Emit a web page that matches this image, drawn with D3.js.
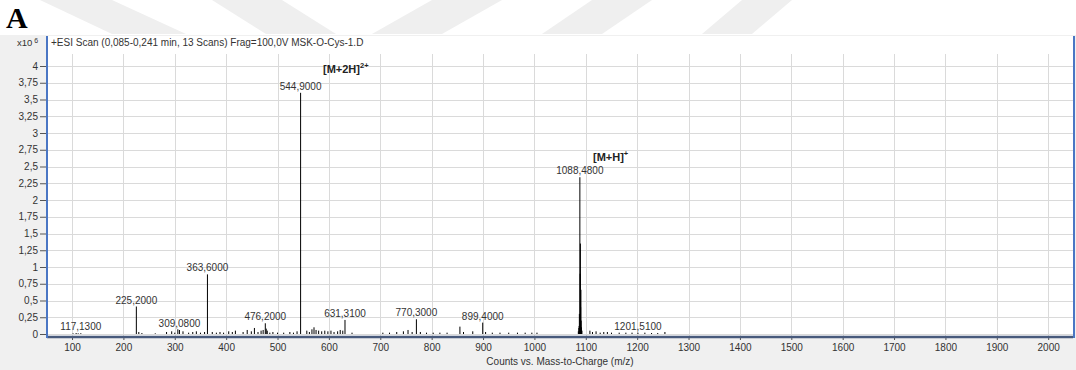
<!DOCTYPE html>
<html>
<head>
<meta charset="utf-8">
<script src="https://cdn.jsdelivr.net/npm/d3@7"></script>
<style>
	body { margin: 0; background: #fff; }
	text { font-family: "Liberation Sans", Arial, sans-serif; }
</style>
</head>
<body>
<svg id="chart" width="1076" height="370"></svg>
<script>
// Labelled peaks (m/z, intensity x10^6)
let peakMz = [117.13, 225.2, 309.08, 363.6, 476.2, 544.9, 631.31, 770.3, 899.4, 1088.48, 1201.51];
let peakInt = [0.012, 0.41, 0.06, 0.89, 0.16, 3.6, 0.21, 0.22, 0.17, 2.34, 0.02];

// Isotope lines around the [M+H]+ peak
let clusterMz = [1085.5, 1086.5, 1087.0, 1087.5, 1089.0, 1089.5, 1090.0, 1090.5, 1091.0, 1091.5, 1092.5];
let clusterInt = [0.04, 0.09, 0.12, 0.3, 0.9, 1.35, 0.4, 0.66, 0.2, 0.1, 0.05];

// Small unlabelled peaks
let minorMz = [102, 108, 112, 230, 236, 262, 284, 294, 300, 306, 316, 327, 335, 342, 350, 358,
	373, 381, 388, 395, 405, 412, 418, 433, 441, 449, 455, 462, 468, 472, 478, 480, 485, 491,
	500, 512, 524, 531, 538, 557, 562, 567, 571, 575, 580, 586, 592, 598, 604, 610, 617, 622,
	627, 645, 705, 718, 732, 745, 754, 762, 778, 790, 803, 816, 830, 855, 862, 880, 905, 918,
	933, 950, 967, 982, 995, 1005, 1108, 1113, 1120, 1128, 1135, 1142, 1150, 1165, 1178, 1190,
	1215, 1228, 1240, 1254];
let minorInt = [0.01, 0.015, 0.01, 0.03, 0.015, 0.01, 0.03, 0.04, 0.02, 0.07, 0.04, 0.02, 0.03,
	0.04, 0.02, 0.03, 0.03, 0.02, 0.03, 0.02, 0.04, 0.03, 0.05, 0.03, 0.06, 0.04, 0.09, 0.03,
	0.05, 0.06, 0.08, 0.05, 0.02, 0.03, 0.02, 0.02, 0.03, 0.02, 0.04, 0.05, 0.03, 0.07, 0.1,
	0.06, 0.05, 0.04, 0.05, 0.04, 0.05, 0.03, 0.04, 0.06, 0.05, 0.02, 0.02, 0.02, 0.03, 0.04,
	0.06, 0.03, 0.03, 0.02, 0.02, 0.02, 0.02, 0.11, 0.03, 0.04, 0.03, 0.02, 0.02, 0.02, 0.02,
	0.02, 0.02, 0.02, 0.05, 0.03, 0.04, 0.02, 0.03, 0.03, 0.02, 0.02, 0.02, 0.02, 0.02, 0.015,
	0.015, 0.03];

// Axis ticks
let xTicks = [100, 200, 300, 400, 500, 600, 700, 800, 900, 1000, 1100, 1200, 1300, 1400, 1500,
	1600, 1700, 1800, 1900, 2000];
let yTicks = [0, 0.25, 0.5, 0.75, 1, 1.25, 1.5, 1.75, 2, 2.25, 2.5, 2.75, 3, 3.25, 3.5, 3.75, 4];

let titleText = '+ESI Scan (0,085-0,241 min, 13 Scans) Frag=100,0V MSK-O-Cys-1.D';
let xTitle = 'Counts vs. Mass-to-Charge (m/z)';

// Layout
let L = 47, R = 1073, T = 36, B = 336, gridTop = 54;

let loc = d3.formatLocale({decimal: ',', thousands: '', grouping: [3], currency: ['', '']});
let yFmt = loc.format('~g');
let mzFmt = loc.format('.4f');

let xScale = d3.scaleLinear().domain([51.3, 2048.3]).range([L, R]);
let yScale = d3.scaleLinear().domain([0, 4]).range([334, 66]);

let svg = d3.select('#chart');

// Watermark stripes behind the panel letter
let stripes = [
	[[40, 0], [112, 0], [186, 34], [112, 34]],
	[[212, 0], [282, 0], [336, 34], [266, 34]],
	[[432, 0], [502, 0], [442, 34], [372, 34]],
	[[592, 0], [652, 0], [602, 34], [542, 34]],
	[[742, 0], [792, 0], [752, 34], [702, 34]]
];
svg.append('g').selectAll('polygon').data(stripes).enter().append('polygon')
	.attr('points', d => d.map(p => p.join(',')).join(' '))
	.attr('fill', '#efefef');

svg.append('text')
	.attr('x', 6).attr('y', 28)
	.style('font-family', '"Liberation Serif", "Times New Roman", serif')
	.style('font-weight', 'bold')
	.style('font-size', '30px')
	.text('A');

// Panel and plot backgrounds
svg.append('rect').attr('x', 0).attr('y', 35).attr('width', 1076).attr('height', 335).attr('fill', '#f0f0f0');
svg.append('rect').attr('x', L).attr('y', T).attr('width', R - L).attr('height', B - T).attr('fill', '#fff');

// Grid
let grid = svg.append('g').attr('stroke', '#dadada').attr('stroke-width', 1).style('shape-rendering', 'crispEdges');
grid.selectAll('.vg').data(xTicks).enter().append('line')
	.attr('x1', d => Math.round(xScale(d)) + 0.5).attr('x2', d => Math.round(xScale(d)) + 0.5)
	.attr('y1', gridTop).attr('y2', B);
grid.selectAll('.hg').data(yTicks).enter().append('line')
	.attr('x1', L).attr('x2', R)
	.attr('y1', d => Math.round(yScale(d)) + 0.5).attr('y2', d => Math.round(yScale(d)) + 0.5);

// Stick spectrum
let sticks = svg.append('g').attr('stroke', '#000').attr('stroke-width', 1);
let allMz = minorMz.concat(clusterMz, peakMz);
let allInt = minorInt.concat(clusterInt, peakInt);
sticks.selectAll('line').data(allMz).enter().append('line')
	.attr('x1', d => xScale(d)).attr('x2', d => xScale(d))
	.attr('y1', yScale(0)).attr('y2', (d, i) => yScale(allInt[i]));

// Peak labels
svg.append('g').selectAll('text').data(peakMz).enter().append('text')
	.attr('x', d => xScale(d))
	.attr('y', (d, i) => yScale(peakInt[i]) - 3)
	.attr('text-anchor', 'middle')
	.style('font-size', '10px')
	.attr('fill', '#333')
	.text(d => mzFmt(d));

// Ion annotations
function ion(x, y, base, sup) {
	let t = svg.append('text').attr('x', x).attr('y', y)
		.style('font-size', '11px').style('font-weight', 'bold').attr('fill', '#222');
	t.append('tspan').text(base);
	t.append('tspan').attr('dy', -5).style('font-size', '7.5px').text(sup);
}
ion(323, 73, '[M+2H]', '2+');
ion(593, 161, '[M+H]', '+');

// X axis
let xAxis = svg.append('g')
	.attr('transform', `translate(0, ${B + 1})`)
	.call(d3.axisBottom(xScale).tickValues(xTicks).tickSize(3).tickPadding(4).tickFormat(d => d));
xAxis.select('.domain').remove();
xAxis.selectAll('.tick line').attr('stroke', '#555');
xAxis.selectAll('.tick text').style('font-size', '10px').attr('fill', '#333')
	.style('font-family', '"Liberation Sans", Arial, sans-serif');
svg.append('line').attr('x1', L).attr('x2', R).attr('y1', B + 1).attr('y2', B + 1)
	.attr('stroke', '#485a7c').attr('stroke-width', 2.5);

svg.append('text')
	.attr('x', 560).attr('y', 365)
	.attr('text-anchor', 'middle')
	.style('font-size', '10px')
	.attr('fill', '#333')
	.text(xTitle);

// Y axis
let yAxis = svg.append('g')
	.attr('transform', `translate(${L - 1}, 0)`)
	.call(d3.axisLeft(yScale).tickValues(yTicks).tickSize(6).tickPadding(2).tickFormat(yFmt));
yAxis.select('.domain').remove();
yAxis.selectAll('.tick line').attr('stroke', '#555');
yAxis.selectAll('.tick text').style('font-size', '10px').attr('fill', '#333')
	.style('font-family', '"Liberation Sans", Arial, sans-serif');

// Panel borders
svg.append('line').attr('x1', L).attr('x2', L).attr('y1', T).attr('y2', B + 2)
	.attr('stroke', '#4a76c4').attr('stroke-width', 2);
svg.append('line').attr('x1', R + 1).attr('x2', R + 1).attr('y1', T).attr('y2', B + 2)
	.attr('stroke', '#4a76c4').attr('stroke-width', 2);

// Header
let unit = svg.append('text').attr('x', 17).attr('y', 46).style('font-size', '9.5px').attr('fill', '#333');
unit.append('tspan').text('x10');
unit.append('tspan').attr('dx', 2).attr('dy', -3).style('font-size', '7px').text('6');
svg.append('text').attr('x', 51).attr('y', 46).style('font-size', '10px').attr('fill', '#333').text(titleText);
</script>
</body>
</html>
